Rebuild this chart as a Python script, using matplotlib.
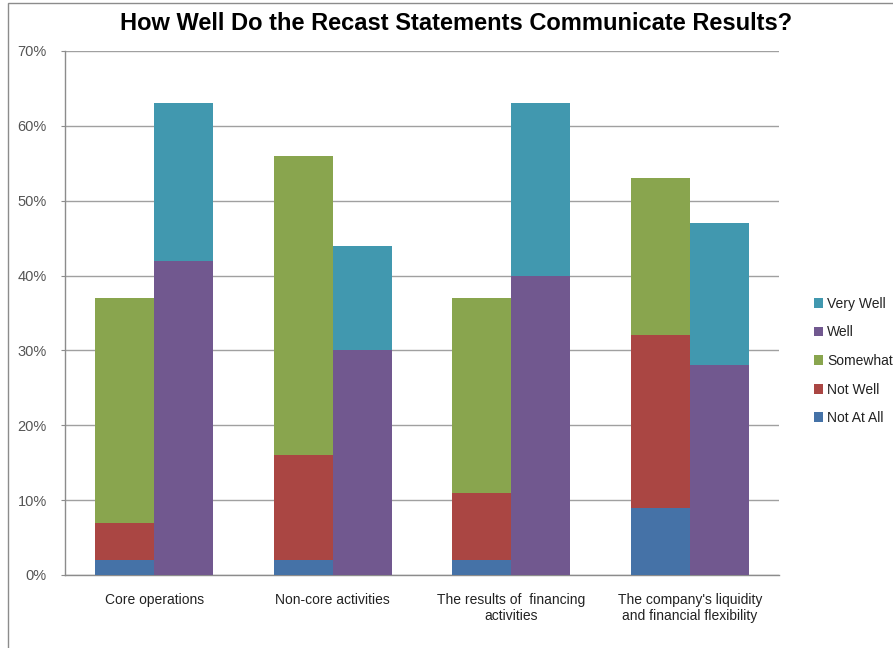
import numpy as np
import matplotlib
matplotlib.use("Agg")
import matplotlib.pyplot as plt
from matplotlib.patches import Rectangle, Patch

plt.rcParams['font.family'] = ['Liberation Sans', 'DejaVu Sans']

categories = ["Core operations", "Non-core activities",
              "The results of  financing\nactivities",
              "The company's liquidity\nand financial flexibility"]

# left bar of each pair (negative side)
not_at_all = [2, 2, 2, 9]
not_well = [5, 14, 9, 23]
somewhat = [30, 40, 26, 21]
# right bar of each pair (positive side)
well = [42, 30, 40, 28]
very_well = [21, 14, 23, 19]

colors = {
    'Not At All': '#4572A7',
    'Not Well': '#AA4643',
    'Somewhat': '#89A54E',
    'Well': '#71588F',
    'Very Well': '#4198AF',
}

fig = plt.figure(figsize=(8.93, 6.48), dpi=100)
ax = fig.add_axes([65 / 893, 1 - 575 / 648, 714 / 893, 524 / 648])

x = np.arange(len(categories))
w = 0.33

bottom = np.zeros(len(categories))
for name, vals in [('Not At All', not_at_all), ('Not Well', not_well), ('Somewhat', somewhat)]:
    ax.bar(x - w / 2, vals, w, bottom=bottom, color=colors[name], zorder=3)
    bottom += np.array(vals)

bottom = np.zeros(len(categories))
for name, vals in [('Well', well), ('Very Well', very_well)]:
    ax.bar(x + w / 2, vals, w, bottom=bottom, color=colors[name], zorder=3)
    bottom += np.array(vals)

ax.set_xlim(-0.5, len(categories) - 0.5)
ax.set_ylim(0, 70)
ax.set_yticks(range(0, 71, 10))
ax.set_yticklabels([f"{v}%" for v in range(0, 71, 10)], color='#555555', fontsize=10.5)
ax.set_xticks(x)
ax.set_xticklabels(categories, fontsize=10, color='#222222')
ax.tick_params(axis='x', length=0, pad=13)
ax.tick_params(axis='y', length=3, color='#8c8c8c', pad=10)
ax.yaxis.grid(True, color='#a0a0a0', linewidth=1.0, zorder=0)
for s in ['top', 'right']:
    ax.spines[s].set_visible(False)
for s in ['left', 'bottom']:
    ax.spines[s].set_color('#8c8c8c')
    ax.spines[s].set_linewidth(1.0)

fig.text(456 / 893, 1 - 24 / 648, "How Well Do the Recast Statements Communicate Results?",
         ha='center', va='center', fontsize=17, fontweight='bold')

order = ['Very Well', 'Well', 'Somewhat', 'Not Well', 'Not At All']
handles = [Patch(facecolor=colors[n], label=n) for n in order]
fig.legend(handles=handles, loc='center left', bbox_to_anchor=(801 / 893, 1 - 361 / 648),
           frameon=False, fontsize=10, handlelength=0.7, handleheight=0.7,
           handletextpad=0.3, labelspacing=1.05, labelcolor='#222222')

# outer chart border
fig.patches.append(Rectangle((8 / 893, -0.1), 1.2, 1 - 3 / 648 + 0.1,
                             transform=fig.transFigure, fill=False,
                             edgecolor='#8c8c8c', linewidth=1.0))

fig.savefig('out.png', dpi=100)
